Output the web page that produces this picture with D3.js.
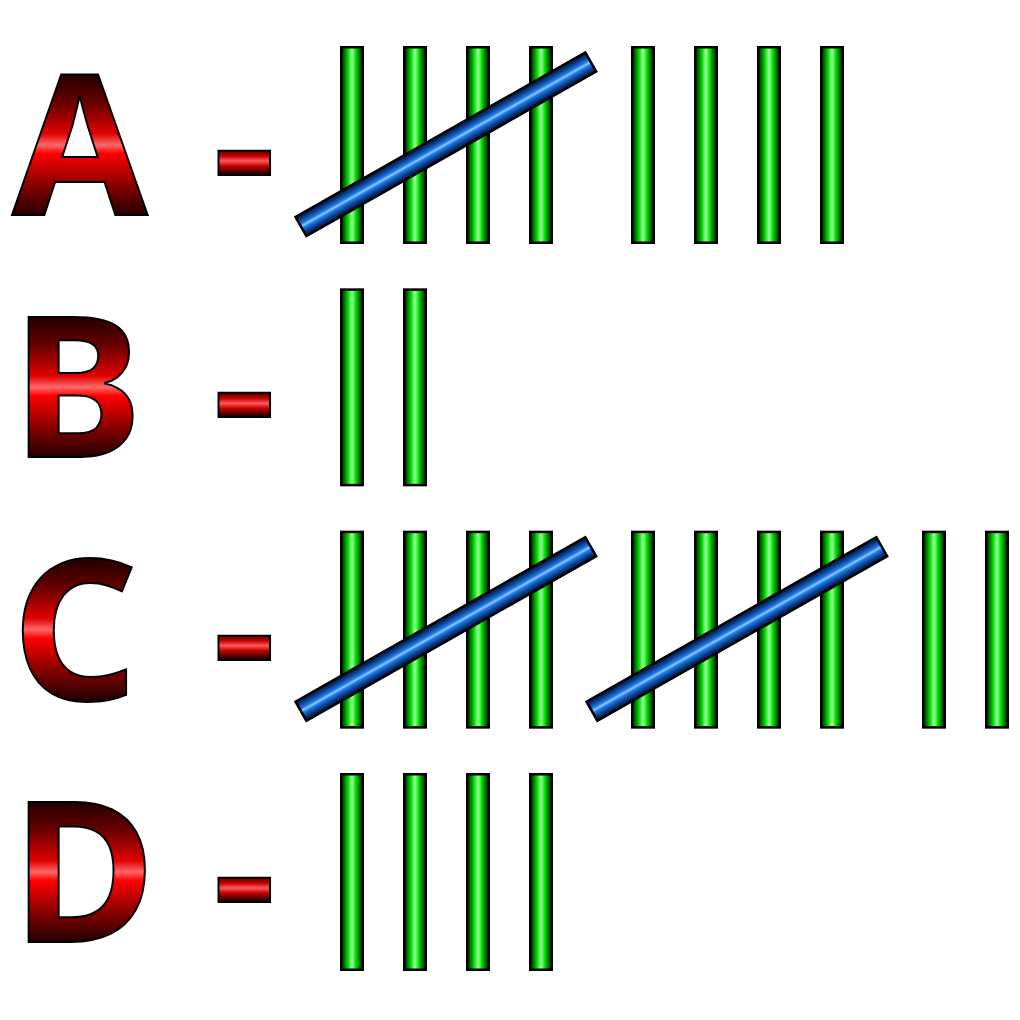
<!DOCTYPE html>
<html><head><meta charset="utf-8">
<script src="https://cdn.jsdelivr.net/npm/d3@7"></script>
<style>html,body{margin:0;padding:0;background:#fff;}svg{display:block;}</style>
</head><body>
<script>
const categories = ["A", "B", "C", "D"];
const counts = [9, 2, 12, 4];

const W = 1020, H = 1020;
const svg = d3.select("body").append("svg").attr("width", W).attr("height", H);
const defs = svg.append("defs");

function grad(id, x2, y2, stops) {
  const g = defs.append("linearGradient").attr("id", id)
    .attr("x1", 0).attr("y1", 0).attr("x2", x2).attr("y2", y2);
  stops.forEach(([o, c]) => g.append("stop").attr("offset", o).attr("stop-color", c));
  return g;
}
function userGrad(id, yTop, yBot, stops) {
  const g = defs.append("linearGradient").attr("id", id).attr("gradientUnits", "userSpaceOnUse")
    .attr("x1", 0).attr("y1", yTop).attr("x2", 0).attr("y2", yBot);
  stops.forEach(([o, c]) => g.append("stop").attr("offset", o).attr("stop-color", c));
}
const letterStops = [[0, "#220000"], [0.2, "#660000"], [0.42, "#e00000"], [0.5, "#ff6a6a"], [0.56, "#ff0000"], [0.78, "#880000"], [1, "#200000"]];
const dashStops = [[0, "#300000"], [0.3, "#c80000"], [0.5, "#ff5a5a"], [0.7, "#c80000"], [1, "#300000"]];
grad("gBar", 1, 0, [[0, "#002a00"], [0.15, "#007000"], [0.32, "#00e000"], [0.5, "#a0ffa0"], [0.68, "#00e000"], [0.85, "#007000"], [1, "#002a00"]]);
grad("gSlash", 0, 1, [[0, "#001030"], [0.2, "#0a3d8a"], [0.4, "#1f7ae8"], [0.5, "#8cc8ff"], [0.6, "#1f7ae8"], [0.8, "#0a3d8a"], [1, "#001030"]]);

const y = d3.scaleBand().domain(categories).range([46, 971]).paddingInner(0.183);
const x = d3.scaleLinear().domain([0, 1]).range([340, 403]);
const groupSlots = 291 / 63;
const barW = 24;
const bh = y.bandwidth();

categories.forEach(c => {
  const base = y(c) + 169;
  userGrad("gL" + c, base - 141, base + 1, letterStops);
  userGrad("gD" + c, base - 66, base - 42, dashStops);
});

const rows = svg.selectAll("g.row").data(categories.map((c, i) => ({ c, n: counts[i] })))
  .enter().append("g").attr("class", "row");

const font = "'Noto Sans', 'Open Sans', sans-serif";
rows.append("text")
  .attr("x", 12).attr("y", d => y(d.c) + 169)
  .attr("font-family", font).attr("font-weight", "bold").attr("font-size", 196)
  .attr("fill", d => `url(#gL${d.c})`).attr("stroke", "#000").attr("stroke-width", 2)
  .text(d => d.c);

rows.append("text")
  .attr("x", 213).attr("y", d => y(d.c) + 169)
  .attr("font-family", font).attr("font-weight", "bold").attr("font-size", 196)
  .attr("fill", d => `url(#gD${d.c})`).attr("stroke", "#000").attr("stroke-width", 2)
  .text("-");

rows.each(function (d) {
  const g = d3.select(this);
  const top = y(d.c);
  const marks = d3.range(d.n).map(i => ({ group: Math.floor(i / 5), pos: i % 5 }));
  g.selectAll("rect.bar").data(marks.filter(m => m.pos < 4)).enter().append("rect")
    .attr("class", "bar")
    .attr("x", m => x(m.group * groupSlots + m.pos) + 1.25)
    .attr("y", top + 1.25)
    .attr("width", barW - 2.5).attr("height", bh - 2.5)
    .attr("fill", "url(#gBar)").attr("stroke", "#000").attr("stroke-width", 2.5);
  g.selectAll("rect.slash").data(marks.filter(m => m.pos === 4)).enter().append("rect")
    .attr("class", "slash")
    .each(function (m) {
      const x1 = x(m.group * groupSlots - 0.62), y1 = top + 180.5;
      const x2 = x(m.group * groupSlots + 3.98), y2 = top + 16;
      const len = Math.hypot(x2 - x1, y2 - y1);
      const ang = Math.atan2(y2 - y1, x2 - x1) * 180 / Math.PI;
      d3.select(this)
        .attr("x", 0).attr("y", -11).attr("width", len).attr("height", 22)
        .attr("transform", `translate(${x1},${y1}) rotate(${ang})`);
    })
    .attr("fill", "url(#gSlash)").attr("stroke", "#000").attr("stroke-width", 2.5);
});
</script>
</body></html>
